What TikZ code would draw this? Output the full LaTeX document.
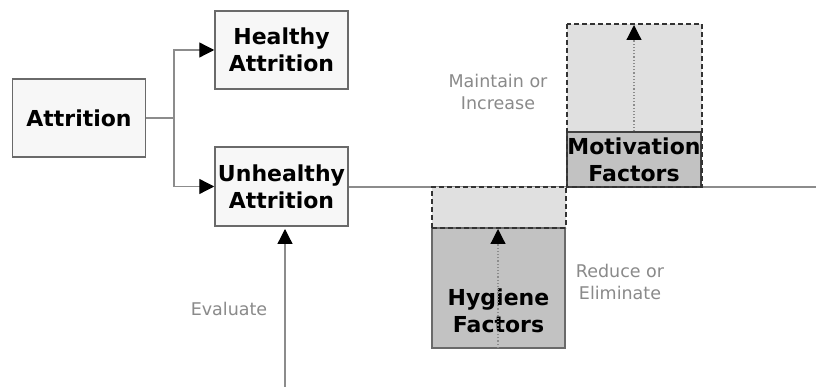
\documentclass[tikz,border=0pt]{standalone}
\usepackage{fontspec}
\setmainfont{DejaVu Sans}
\usetikzlibrary{arrows.meta}
\definecolor{boxfill}{HTML}{F7F7F7}
\definecolor{boxline}{HTML}{6A6A6A}
\definecolor{conn}{HTML}{8C8C8C}
\definecolor{lbl}{HTML}{8A8A8A}
\definecolor{lightf}{HTML}{E0E0E0}
\definecolor{darkf}{HTML}{C2C2C2}
\tikzset{
  box/.style={draw=boxline, line width=1.5pt, fill=boxfill, minimum width=133pt, inner sep=0pt, align=center,
    font=\fontsize{22}{27}\selectfont\bfseries},
  btext/.style={inner sep=0pt, align=center, font=\fontsize{22}{27}\selectfont\bfseries},
  lab/.style={inner sep=0pt, align=center, text=lbl, font=\fontsize{17.5}{22}\selectfont},
  conn/.style={draw=conn, line width=1.3pt},
  tip/.style={-{Triangle[length=15pt,width=15pt,color=black]}},
  dbox/.style={draw=black!80, dash pattern=on 5pt off 3pt, line width=1.5pt},
}
\begin{document}
\begin{tikzpicture}[x=1pt,y=-1pt]
\useasboundingbox[fill=white] (0,0) rectangle (816,387);
% boxes
\node[box, minimum height=78pt] (att) at (79,118) {Attrition};
\node[box, minimum height=78pt] (hea) at (281.5,50) {Healthy\\Attrition};
\node[box, minimum height=79pt] (unh) at (281.5,186.5) {Unhealthy\\Attrition};
% branch
\coordinate (br) at (174,118);
\coordinate (endr) at (816,187);
\coordinate (evs) at (285,387);
\coordinate (evt) at (285,229);
\draw[conn] (att.east) -- (br);
\draw[conn, tip] (br) |- (hea.west);
\draw[conn, tip] (br) |- (unh.west);
\draw[conn] (unh.east |- endr) -- (endr);
\draw[conn, tip] (evs) -- (evt);
\node[lab] (eval) at (229,309) {Evaluate};
% hygiene
\fill[lightf] (432,187) rectangle (566,228);
\node[draw=boxline, line width=1.3pt, fill=darkf, minimum width=133pt, minimum height=120pt, inner sep=0pt] (hyg) at (498.5,288) {};
\node[btext] (hygt) at (498.5,311) {Hygiene\\Factors};
\draw[dbox] (432,228) -- (432,187) -- (566,187) -- (566,228);
\draw[dbox] (432,228) -- (566,228);
\coordinate (hygs) at (498,348);
\coordinate (hyge) at (498,229);
\draw[draw=conn, line width=1.2pt, dotted, tip] (hygs) -- (hyge);
\node[lab] (red) at (620,282) {Reduce or\\Eliminate};
% motivation
\fill[lightf] (567,24) rectangle (702,187);
\node[draw=black!75, line width=1.4pt, fill=darkf, minimum width=134pt, minimum height=55pt, inner sep=0pt] (mot) at (634,159.5) {};
\node[btext] (mott) at (634,160) {Motivation\\Factors};
\coordinate (mote) at (634,25);
\draw[draw=conn, line width=1.2pt, dotted, tip] (mot.north) -- (mote);
\draw[dbox] (567,24) rectangle (702,187);
\node[lab] (mai) at (498,92) {Maintain or\\Increase};
\end{tikzpicture}
\end{document}
